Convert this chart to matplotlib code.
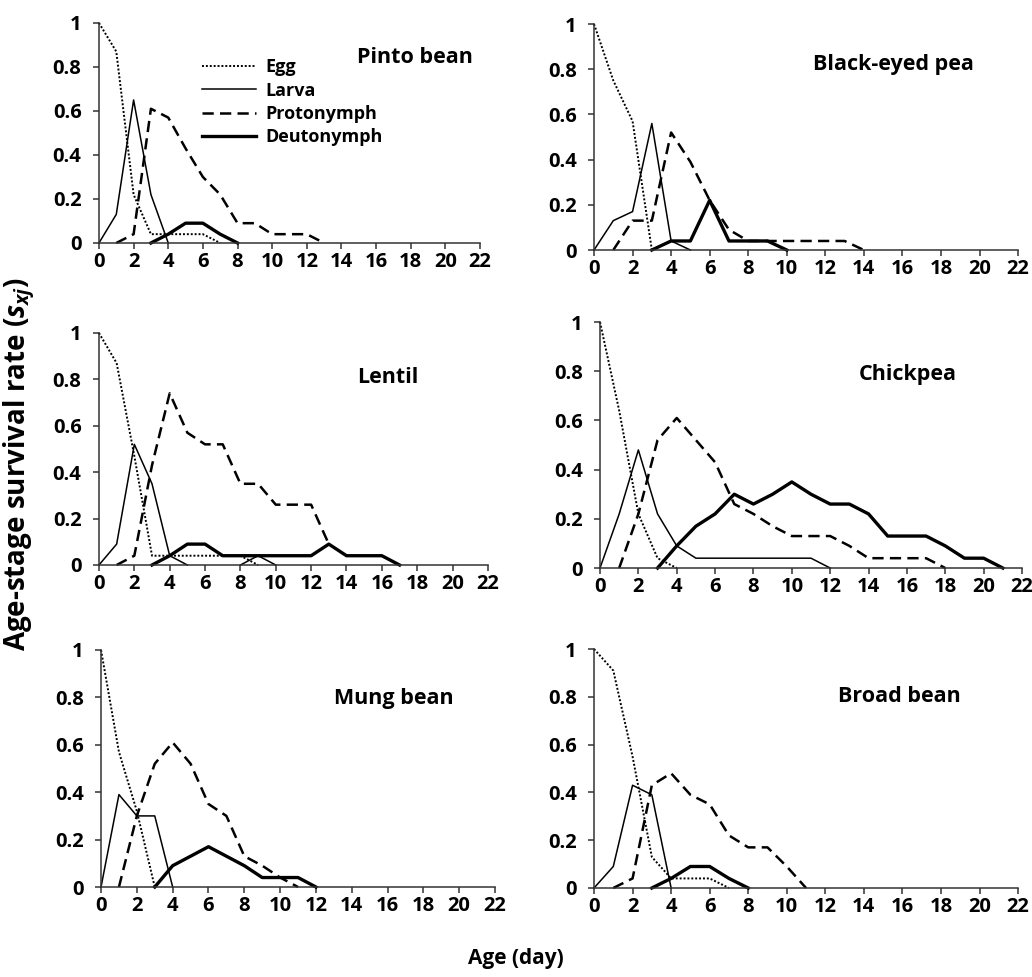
import matplotlib.pyplot as plt
import numpy as np

# Bold sans font, close to the Calibri look of the original
plt.rcParams['font.family'] = ['Open Sans', 'DejaVu Sans']
plt.rcParams['font.weight'] = 'bold'
plt.rcParams['mathtext.fontset'] = 'custom'
plt.rcParams['mathtext.it'] = 'Open Sans:italic:bold'
plt.rcParams['mathtext.rm'] = 'Open Sans:bold'

nan = np.nan

# ==============================================================================
# Age-stage survival rate (s_xj), indexed by age in days (nan = stage absent)
# ==============================================================================
hosts = ['Pinto bean', 'Black-eyed pea', 'Lentil', 'Chickpea', 'Mung bean', 'Broad bean']
stages = ['Egg', 'Larva', 'Protonymph', 'Deutonymph']

pinto_egg = [1.0, 0.87, 0.22, 0.04, 0.04, 0.04, 0.04, 0]
pinto_larva = [0, 0.13, 0.65, 0.22, 0]
pinto_proto = [nan, 0, 0.04, 0.61, 0.57, 0.43, 0.30, 0.22, 0.09, 0.09, 0.04, 0.04, 0.04, 0]
pinto_deut = [nan, nan, nan, 0, 0.04, 0.09, 0.09, 0.04, 0]

black_egg = [1.0, 0.75, 0.57, 0]
black_larva = [0, 0.13, 0.17, 0.56, 0.04, 0]
black_proto = [nan, 0, 0.13, 0.13, 0.52, 0.39, 0.22, 0.09, 0.04, 0.04, 0.04, 0.04, 0.04, 0.04, 0]
black_deut = [nan, nan, nan, 0, 0.04, 0.04, 0.22, 0.04, 0.04, 0.04, 0]

lentil_egg = [1.0, 0.87, 0.47, 0.04, 0.04, 0.04, 0.04, 0.04, 0.04, 0]
lentil_larva = [0, 0.09, 0.52, 0.35, 0.04, 0, nan, nan, 0, 0.04, 0]
lentil_proto = [nan, 0, 0.04, 0.43, 0.74, 0.57, 0.52, 0.52, 0.35, 0.35, 0.26, 0.26, 0.26, 0.09]
lentil_deut = [nan, nan, nan, 0, 0.04, 0.09, 0.09, 0.04, 0.04, 0.04, 0.04, 0.04, 0.04, 0.09,
               0.04, 0.04, 0.04, 0]

chick_egg = [1.0, 0.64, 0.22, 0.04, 0]
chick_larva = [0, 0.22, 0.48, 0.22, 0.09, 0.04, 0.04, 0.04, 0.04, 0.04, 0.04, 0.04, 0]
chick_proto = [nan, 0, 0.22, 0.52, 0.61, 0.52, 0.43, 0.26, 0.22, 0.17, 0.13, 0.13, 0.13, 0.09,
               0.04, 0.04, 0.04, 0.04, 0]
chick_deut = [nan, nan, nan, 0, 0.09, 0.17, 0.22, 0.30, 0.26, 0.30, 0.35, 0.30, 0.26, 0.26,
              0.22, 0.13, 0.13, 0.13, 0.09, 0.04, 0.04, 0]

mung_egg = [1.0, 0.57, 0.32, 0]
mung_larva = [0, 0.39, 0.30, 0.30, 0]
mung_proto = [nan, 0, 0.30, 0.52, 0.61, 0.52, 0.35, 0.30, 0.13, 0.09, 0.04, 0]
mung_deut = [nan, nan, nan, 0, 0.09, 0.13, 0.17, 0.13, 0.09, 0.04, 0.04, 0.04, 0]

broad_egg = [1.0, 0.91, 0.55, 0.13, 0.04, 0.04, 0.04, 0]
broad_larva = [0, 0.09, 0.43, 0.39, 0]
broad_proto = [nan, 0, 0.04, 0.43, 0.48, 0.39, 0.35, 0.22, 0.17, 0.17, 0.09, 0]
broad_deut = [nan, nan, nan, 0, 0.04, 0.09, 0.09, 0.04, 0]

x_ticks = list(range(0, 23, 2))
y_ticks = [0, 0.2, 0.4, 0.6, 0.8, 1]
y_tick_labels = ['0', '0.2', '0.4', '0.6', '0.8', '1']

panel_data = [
    (pinto_egg, pinto_larva, pinto_proto, pinto_deut),
    (black_egg, black_larva, black_proto, black_deut),
    (lentil_egg, lentil_larva, lentil_proto, lentil_deut),
    (chick_egg, chick_larva, chick_proto, chick_deut),
    (mung_egg, mung_larva, mung_proto, mung_deut),
    (broad_egg, broad_larva, broad_proto, broad_deut),
]

# Layout: axes rectangles (left, bottom, width, height) in figure fraction
rects = [
    (0.0959, 0.7513, 0.3692, 0.2252),
    (0.5756, 0.7441, 0.4109, 0.2313),
    (0.0959, 0.4217, 0.3769, 0.2375),
    (0.5814, 0.4186, 0.4089, 0.2518),
    (0.0979, 0.0921, 0.3818, 0.2426),
    (0.5756, 0.0911, 0.4109, 0.2446),
]
title_pos = [(0.83, 0.845), (0.705, 0.82), (0.743, 0.806),
             (0.73, 0.785), (0.744, 0.797), (0.72, 0.80)]

# Line style for each stage
styles = [
    dict(linestyle=(0, (1, 1)), linewidth=1.4),
    dict(linestyle='-', linewidth=1.1),
    dict(linestyle=(0, (4.5, 2.5)), linewidth=1.8),
    dict(linestyle='-', linewidth=2.4),
]

fig = plt.figure(figsize=(10.32, 9.77), dpi=100)

for i, host in enumerate(hosts):
    ax = fig.add_axes(rects[i])
    for stage, vals, st in zip(stages, panel_data[i], styles):
        x = np.arange(len(vals))
        ax.plot(x, vals, color='black', label=stage, clip_on=False, **st)

    ax.set_xlim(0, 22)
    ax.set_ylim(0, 1)
    ax.set_xticks(x_ticks)
    ax.set_xticklabels([str(t) for t in x_ticks], fontweight='bold')
    ax.set_yticks(y_ticks)
    ax.set_yticklabels(y_tick_labels, fontweight='bold')
    for side in ['top', 'right']:
        ax.spines[side].set_visible(False)
    for side in ['left', 'bottom']:
        ax.spines[side].set_color('#333333')
        ax.spines[side].set_linewidth(1.1)
    ax.tick_params(axis='x', direction='out', length=4.5, width=1.1, color='#333333',
                   labelsize=14.5, pad=2)
    ax.tick_params(axis='y', direction='out', length=4.5, width=1.1, color='#333333',
                   labelsize=14.5, pad=8)

    ax.text(title_pos[i][0], title_pos[i][1], host, transform=ax.transAxes,
            ha='center', va='center', fontsize=15.5, fontweight='bold')

    if i == 0:
        ax.legend(loc='upper left', bbox_to_anchor=(0.27, 0.84), frameon=False,
                  prop={'size': 13, 'weight': 'bold'}, handlelength=3.0,
                  handletextpad=0.5, labelspacing=0.3, borderpad=0, borderaxespad=0)

fig.text(0.018, 0.525, r'Age-stage survival rate ($\mathit{s}_{\mathit{xj}}$)',
         rotation=90, ha='center', va='center', fontsize=20, fontweight='bold')
fig.text(0.5, 0.019, 'Age (day)', ha='center', va='center', fontsize=15, fontweight='bold')

plt.savefig('out.png', dpi=100)
